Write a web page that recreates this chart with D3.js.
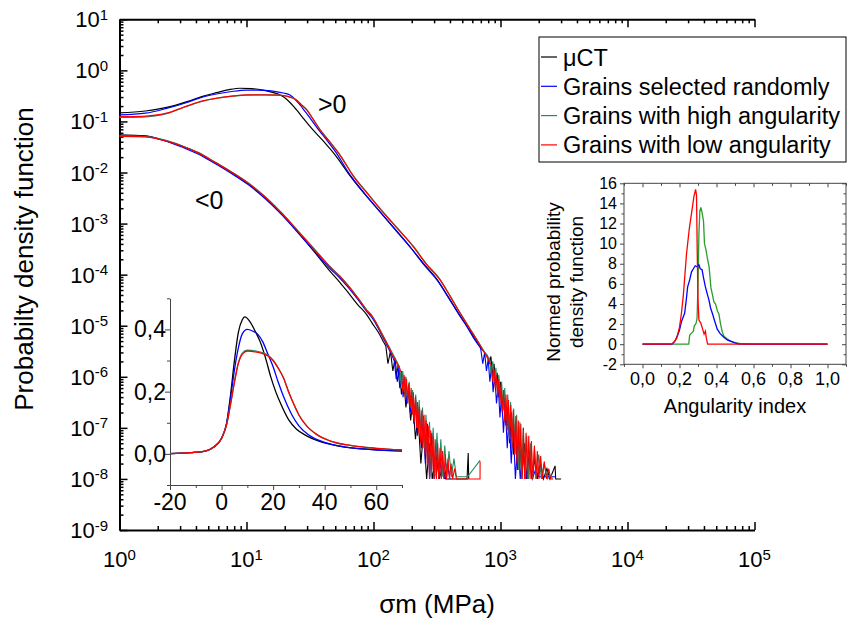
<!DOCTYPE html>
<html>
<head>
<meta charset="utf-8">
<script src="https://cdn.jsdelivr.net/npm/d3@7"></script>
<style>
  body { margin: 0; background: #fff; }
  text { font-family: "Liberation Sans", Arial, sans-serif; fill: #000; }
</style>
</head>
<body>
<svg id="chart" width="849" height="621"></svg>
<script>
// ---- data: main plot, sigma_m (MPa) vs pdf ----
// ">0" group
const posBlack = [[1,0.147],[1.6,0.16],[2.4,0.19],[3.4,0.245],[4.5,0.31],[5.8,0.366],[7.3,0.42],[8.9,0.447],[11,0.44],[13.5,0.41],[16,0.37],[18.4,0.33],[20,0.29],[22,0.235],[24.8,0.168],[28,0.115],[31.7,0.079],[40,0.042],[50,0.022],[65,0.0088],[85,0.0038],[112,0.00172],[150,0.00074],[194,0.00035],[250,0.00016],[318,0.000079],[390,0.000036],[466,0.0000177],[550,0.0000095],[630,0.0000055],[710,0.0000035],[790,0.0000026]];
const posBlackTail = [[815,1.8e-6],[840,2.5e-6],[865,1.1e-6],[890,1.8e-6],[915,6e-7],[940,1.2e-6],[970,4e-7],[1000,8e-7],[1035,2.2e-7],[1070,5e-7],[1105,1.1e-7],[1140,3e-7],[1180,5e-8],[1220,2e-7],[1265,3e-8],[1310,1.2e-7],[1360,1.5e-8],[1410,8e-8],[1470,1e-8],[1540,5e-8],[1610,1e-8],[1690,3.5e-8],[1770,1e-8],[1860,2.5e-8],[1950,1e-8],[2060,2e-8],[2180,1e-8],[2320,1.6e-8],[2450,1e-8],[2690,1.8e-8],[2720,1e-8],[3000,1e-8]];
const posBlue = [[1,0.134],[1.6,0.145],[2.35,0.18],[3.4,0.235],[4.3,0.29],[5.8,0.345],[7.9,0.39],[10,0.41],[12,0.412],[14,0.405],[17,0.385],[19.5,0.36],[22,0.33],[24,0.275],[26.4,0.21],[29,0.155],[31.7,0.116],[36,0.075],[42,0.046],[50,0.026],[65,0.0092],[85,0.0039],[112,0.00173],[150,0.00074],[194,0.00035],[250,0.000155],[318,0.000077],[390,0.000035],[466,0.0000172],[550,0.0000092],[630,0.0000052],[690,0.0000038]];
const posBlueTail = [[700,3.4e-6],[725,1.8e-6],[750,3e-6],[775,1.3e-6],[800,2.2e-6],[825,8e-7],[850,1.6e-6],[875,5e-7],[900,1.1e-6],[930,3e-7],[960,7e-7],[990,1.6e-7],[1020,4.5e-7],[1055,8e-8],[1090,3e-7],[1130,4e-8],[1170,1.8e-7],[1215,2e-8],[1260,1.1e-7],[1310,1e-8],[1370,6e-8],[1430,1e-8],[1500,3.5e-8],[1580,1e-8],[1680,2.2e-8],[1780,1e-8],[1900,1.6e-8],[2000,1.1e-8],[2700,1.1e-8]];
const posGreen = [[1,0.12],[1.5,0.122],[2.35,0.142],[3.2,0.188],[4.3,0.24],[6,0.288],[7.9,0.313],[10,0.328],[14,0.331],[18,0.327],[21,0.311],[24.8,0.262],[27,0.215],[29.8,0.17],[33,0.118],[37.9,0.07],[45,0.041],[55,0.0215],[69.3,0.0087],[90,0.0039],[120,0.00165],[160,0.00074],[206,0.00036],[260,0.000165],[334,0.000081],[400,0.000039],[480,0.000018],[560,0.0000097],[650,0.0000054],[740,0.0000032],[800,0.0000024]];
const posGreenTail = [[820,2.3e-6],[845,1.1e-6],[870,2e-6],[895,8e-7],[920,1.5e-6],[945,5e-7],[970,1.1e-6],[995,3.5e-7],[1020,8e-7],[1050,2.2e-7],[1080,6e-7],[1110,1.4e-7],[1140,4.5e-7],[1170,8e-8],[1200,3.2e-7],[1235,5e-8],[1270,2.4e-7],[1305,3e-8],[1340,1.8e-7],[1380,1.5e-8],[1420,1.3e-7],[1465,1e-8],[1510,1e-7],[1560,1e-8],[1610,7e-8],[1660,1e-8],[1720,5e-8],[1780,1e-8],[1850,4e-8],[1920,1e-8],[2000,3e-8],[2100,1e-8],[2200,2e-8],[2350,1e-8],[2500,1.2e-8],[2550,1e-8]];
const posRed = [[1,0.124],[1.5,0.126],[2.35,0.145],[3.2,0.19],[4.3,0.245],[6,0.29],[7.9,0.316],[10,0.33],[14,0.332],[18,0.327],[21,0.31],[24.8,0.26],[27,0.212],[29.8,0.168],[33,0.116],[37.9,0.068],[45,0.04],[55,0.021],[69.3,0.0085],[90,0.0038],[120,0.0016],[160,0.00072],[206,0.00035],[260,0.00016],[334,0.000079],[400,0.000038],[480,0.0000177],[560,0.0000095],[650,0.0000053],[740,0.0000031],[827,0.0000019]];
const posRedTail = [[850,1.6e-6],[870,8e-7],[890,1.4e-6],[910,6e-7],[930,1.1e-6],[950,4e-7],[970,9e-7],[990,3e-7],[1010,7e-7],[1030,2e-7],[1055,5.5e-7],[1080,1.3e-7],[1105,4.5e-7],[1130,9e-8],[1155,3.5e-7],[1180,6e-8],[1205,2.8e-7],[1230,4e-8],[1260,2.2e-7],[1290,3e-8],[1320,1.7e-7],[1350,2e-8],[1380,1.4e-7],[1410,1.5e-8],[1445,1.2e-7],[1480,1e-8],[1515,1e-7],[1550,1e-8],[1590,8e-8],[1630,1e-8],[1670,7e-8],[1710,1e-8],[1750,5.5e-8],[1800,1e-8],[1850,4.5e-8],[1900,1e-8],[1950,3.5e-8],[2010,1e-8],[2070,2.8e-8],[2140,1e-8],[2210,2.2e-8],[2300,1e-8],[2400,1.6e-8],[2480,1e-8],[2600,1e-8]];

// "<0" group
const negBlack = [[1,0.0545],[1.6,0.052],[2.2,0.043],[3.1,0.033],[4.2,0.024],[5.65,0.0155],[7.5,0.0102],[10.3,0.006],[14,0.0032],[18.9,0.00155],[26.4,0.0006],[34.6,0.00027],[45,0.00012],[54.5,0.00007],[63,0.000045],[75,0.000026],[88.4,0.0000165],[97,0.0000115],[110,0.0000072],[120,0.0000048]];
const negBlackTail = [[125,4e-6],[130,1.8e-6],[136,3.2e-6],[142,1.3e-6],[148,2.3e-6],[154,8e-7],[160,1.4e-6],[166,4.5e-7],[173,9e-7],[180,2.5e-7],[188,5.5e-7],[196,1.4e-7],[204,3.2e-7],[214,6e-8],[224,1.8e-7],[236,2e-8],[248,9e-8],[262,1e-8],[276,5e-8],[290,1e-8],[310,3e-8],[330,1e-8],[350,1.8e-8],[370,1e-8],[545,1e-8],[557,3.2e-8],[562,1e-8]];
const negBlue = [[1,0.053],[1.6,0.051],[2.2,0.043],[3.1,0.0315],[4.2,0.0228],[5.65,0.015],[7.5,0.0098],[10.3,0.0058],[14,0.0031],[18.9,0.0015],[26.4,0.0006],[34.6,0.00028],[45,0.000135],[54.5,0.000085],[63,0.000057],[75,0.000033],[88.4,0.000019],[97,0.0000145],[119.5,0.0000057],[140,0.0000026]];
const negBlueTail = [[146,2e-6],[151,9e-7],[156,1.7e-6],[161,6e-7],[166,1.3e-6],[171,4e-7],[177,1e-6],[183,3e-7],[189,7e-7],[195,2e-7],[201,5e-7],[208,1.2e-7],[215,3.5e-7],[222,7e-8],[230,2.5e-7],[238,4e-8],[247,1.7e-7],[256,2e-8],[266,1.2e-7],[277,1e-8],[288,8e-8],[300,1e-8],[313,5e-8],[328,1e-8],[344,3e-8],[362,1e-8],[380,2e-8],[400,1e-8]];
const negGreen = [[1,0.052],[1.6,0.0505],[2.2,0.044],[3.1,0.0335],[4.2,0.0245],[5.65,0.016],[7.5,0.0106],[10.3,0.0063],[14,0.0034],[18.9,0.00163],[26.4,0.00065],[34.6,0.00031],[45,0.000148],[54.5,0.000093],[63,0.000062],[75,0.000036],[88.4,0.0000205],[97,0.0000158],[119.5,0.0000063],[140,0.000003],[156,0.0000018]];
const negGreenTail = [[160,1.6e-6],[165,7e-7],[170,1.3e-6],[175,5e-7],[180,1e-6],[185,3.5e-7],[191,8e-7],[197,2.5e-7],[203,5.5e-7],[209,1.5e-7],[215,4.5e-7],[222,1e-7],[229,3.5e-7],[236,6e-8],[243,2.5e-7],[251,4e-8],[259,1.8e-7],[267,2e-8],[276,1.3e-7],[285,1.1e-8],[295,1e-7],[305,1.1e-8],[316,8e-8],[327,1.1e-8],[339,6e-8],[351,1.1e-8],[364,4.5e-8],[378,1.1e-8],[393,3.5e-8],[410,1.1e-8],[430,2.5e-8],[450,1.1e-8],[550,1.1e-8],[690,2.3e-8]];
const negRed = [[1,0.051],[1.6,0.05],[2.2,0.043],[3.1,0.033],[4.2,0.024],[5.65,0.0158],[7.5,0.0104],[10.3,0.0062],[14,0.0033],[18.9,0.0016],[26.4,0.00064],[34.6,0.0003],[45,0.000145],[54.5,0.000091],[63,0.000061],[75,0.000035],[88.4,0.00002],[97,0.0000155],[119.5,0.0000061],[140,0.0000028],[162,0.0000014]];
const negRedTail = [[166,1.2e-6],[170,5e-7],[174,1.1e-6],[178,4e-7],[182,9e-7],[186,3e-7],[190,7.5e-7],[194,2.5e-7],[198,6e-7],[202,1.8e-7],[206,5e-7],[210,1.3e-7],[214,4e-7],[218,1e-7],[222,3.2e-7],[226,8e-8],[230,2.6e-7],[235,5e-8],[240,2.2e-7],[245,4e-8],[250,1.8e-7],[255,3e-8],[260,1.4e-7],[265,2e-8],[270,1.1e-7],[276,1e-8],[282,9e-8],[288,1.5e-8],[294,7e-8],[300,1e-8],[306,6e-8],[313,1e-8],[320,5e-8],[327,1e-8],[334,4e-8],[342,1e-8],[350,3.5e-8],[358,1e-8],[367,3e-8],[376,1e-8],[386,2.5e-8],[396,1e-8],[408,2e-8],[420,1e-8],[435,1.6e-8],[450,1e-8],[690,1e-8],[691,2.2e-8]];

// ---- inset 1 (linear, >0 distribution) ----
const insBlack = [[-20,0.001],[-12,0.004],[-6,0.01],[-3,0.022],[0,0.05],[2,0.1],[3.5,0.19],[5,0.3],[6.5,0.39],[8,0.43],[9,0.44],[11,0.425],[13,0.395],[15,0.36],[17,0.31],[19,0.25],[21,0.2],[23,0.16],[26,0.11],[29,0.08],[33,0.058],[38,0.04],[45,0.026],[55,0.016],[70,0.01]];
const insBlue = [[-20,0.001],[-12,0.004],[-6,0.01],[-3,0.022],[0,0.05],[2,0.1],[3.5,0.18],[5,0.27],[6.5,0.34],[8,0.385],[10,0.4],[12,0.395],[14,0.385],[16,0.36],[18,0.32],[20,0.28],[22,0.23],[24,0.185],[27,0.13],[30,0.09],[34,0.06],[40,0.037],[48,0.022],[58,0.014],[70,0.009]];
const insGreen = [[-20,0.001],[-12,0.004],[-6,0.01],[-3,0.022],[0,0.05],[2,0.095],[3.5,0.16],[5,0.232],[6.5,0.292],[8,0.323],[10,0.333],[13,0.331],[16,0.325],[18,0.317],[20,0.301],[22,0.276],[24,0.245],[26,0.2],[28,0.16],[30,0.125],[33,0.09],[37,0.062],[42,0.042],[50,0.027],[60,0.018],[70,0.013]];
const insRed = [[-20,0.001],[-12,0.004],[-6,0.01],[-3,0.022],[0,0.05],[2,0.095],[3.5,0.16],[5,0.23],[6.5,0.29],[8,0.32],[10,0.33],[13,0.328],[16,0.322],[18,0.315],[20,0.3],[22,0.275],[24,0.245],[26,0.2],[28,0.16],[30,0.125],[33,0.09],[37,0.062],[42,0.042],[50,0.027],[60,0.018],[70,0.013]];

// ---- inset 2 (angularity index) ----
const angBlue = [[0,0],[0.16,0],[0.175,0.3],[0.19,0.9],[0.2,1.4],[0.21,2.2],[0.228,3.1],[0.236,4.3],[0.244,5.7],[0.255,6.4],[0.265,7.2],[0.275,7.5],[0.285,7.8],[0.295,7.7],[0.305,7.9],[0.312,7.5],[0.322,7.4],[0.33,6.6],[0.34,5.7],[0.35,5],[0.359,4.4],[0.368,3.6],[0.377,3.1],[0.39,2.3],[0.404,1.5],[0.42,1.05],[0.44,0.7],[0.46,0.4],[0.476,0.3],[0.5,0.12],[0.52,0],[1,0]];
const angGreen = [[0,0],[0.25,0],[0.255,0.9],[0.265,1.1],[0.275,1.3],[0.28,1.8],[0.29,2.1],[0.295,2.6],[0.3,6],[0.305,11],[0.31,13.2],[0.315,13.6],[0.322,13.1],[0.33,12.2],[0.335,10],[0.343,9.4],[0.35,8.6],[0.36,7.7],[0.37,5.6],[0.377,5],[0.386,4.2],[0.395,4],[0.405,3.3],[0.413,3],[0.422,2],[0.43,1.3],[0.44,0.8],[0.46,0.5],[0.476,0.3],[0.5,0.15],[0.53,0.05],[0.6,0],[1,0]];
const angRed = [[0,0],[0.155,0],[0.17,0.2],[0.185,0.6],[0.2,1.7],[0.21,3],[0.22,4.7],[0.238,9],[0.253,11.5],[0.265,13],[0.278,14.7],[0.287,15.4],[0.292,14.8],[0.296,9],[0.3,4.5],[0.305,2.4],[0.315,2.1],[0.325,1.5],[0.333,1],[0.34,1.3],[0.345,0.6],[0.352,0],[1,0]];

const legendLabels = ["\u03bcCT", "Grains selected randomly", "Grains with high angularity", "Grains with low angularity"];
const colors = ["#000000", "#0000ff", "#1f8f62", "#ff0000"];
const angGreenColor = "#2a9d2a";

const svg = d3.select("#chart");

// ---------- main axes ----------
const x = d3.scaleLog().domain([1, 1e5]).range([119.5, 754.5]);
const y = d3.scaleLog().domain([1e-9, 10]).range([530, 19.3]);

const isMajor = d => Math.abs(Math.log10(d) - Math.round(Math.log10(d))) < 1e-6;
const xTicks = x.ticks();
const yTicks = y.ticks(30);

function styleLogAxis(g, attr) {
  g.select(".domain").attr("stroke-width", 2);
  g.selectAll(".tick line")
    .attr("stroke-width", 1.5)
    .attr(attr, function (d) {
      const v = +this.getAttribute(attr);
      return isMajor(d) ? v : v / 2;
    });
}

const gBottom = svg.append("g").attr("transform", "translate(0,530)")
  .call(d3.axisBottom(x).tickValues(xTicks).tickSize(-8).tickSizeOuter(0).tickFormat(""));
styleLogAxis(gBottom, "y2");
const gTop = svg.append("g").attr("transform", "translate(0,19.3)")
  .call(d3.axisTop(x).tickValues(xTicks).tickSize(-8).tickSizeOuter(0).tickFormat(""));
styleLogAxis(gTop, "y2");
const gLeft = svg.append("g").attr("transform", "translate(119.5,0)")
  .call(d3.axisLeft(y).tickValues(yTicks).tickSize(-8).tickSizeOuter(0).tickFormat(""));
styleLogAxis(gLeft, "x2");

function powText(sel) {
  sel.each(function (d) {
    const t = d3.select(this);
    t.append("tspan").text("10");
    t.append("tspan").attr("dy", -7.5).attr("font-size", 15).text(Math.round(Math.log10(d)));
  });
}

svg.append("g").selectAll("text")
  .data(xTicks.filter(isMajor))
  .join("text")
  .attr("x", d => x(d)).attr("y", 567)
  .attr("text-anchor", "middle").attr("font-size", 22)
  .call(powText);

svg.append("g").selectAll("text")
  .data(yTicks.filter(isMajor))
  .join("text")
  .attr("x", 108).attr("y", d => y(d) + 8)
  .attr("text-anchor", "end").attr("font-size", 22)
  .call(powText);

svg.append("text")
  .attr("transform", "translate(33,259) rotate(-90)")
  .attr("text-anchor", "middle").attr("font-size", 26)
  .text("Probabilty density function");

svg.append("text")
  .attr("x", 437).attr("y", 613)
  .attr("text-anchor", "middle").attr("font-size", 26)
  .text("\u03c3m (MPa)");

svg.append("text").attr("x", 318).attr("y", 113).attr("font-size", 25).text(">0");
svg.append("text").attr("x", 195).attr("y", 209).attr("font-size", 25).text("<0");

// ---------- inset 1 ----------
const xi = d3.scaleLinear().domain([-20, 70]).range([170, 402]);
const yi = d3.scaleLinear().domain([-0.1, 0.5]).range([485, 298.3]);

const gi = svg.append("g");
const giB = gi.append("g").attr("transform", "translate(0,485)")
  .call(d3.axisBottom(xi).tickValues(d3.range(-20, 71, 10)).tickSize(5).tickSizeOuter(0).tickFormat(""));
giB.selectAll(".tick line").attr("y2", d => d % 20 === 0 ? 5 : 3);
const giL = gi.append("g").attr("transform", "translate(170,0)")
  .call(d3.axisLeft(yi).tickValues([-0.1, 0, 0.1, 0.2, 0.3, 0.4, 0.5]).tickSize(5).tickSizeOuter(0).tickFormat(""));
giL.selectAll(".tick line").attr("x2", d => Math.round(d * 10) % 2 === 0 ? -5 : -3);
gi.selectAll(".domain, .tick line").attr("stroke", "#444").attr("stroke-width", 1);

gi.append("g").selectAll("text")
  .data([-20, 0, 20, 40, 60]).join("text")
  .attr("x", d => xi(d)).attr("y", 510)
  .attr("text-anchor", "middle").attr("font-size", 23)
  .text(d => d);
gi.append("g").selectAll("text")
  .data([0, 0.2, 0.4]).join("text")
  .attr("x", 166).attr("y", d => yi(d) + 8)
  .attr("text-anchor", "end").attr("font-size", 23)
  .text(d => d3.format(".1f")(d).replace(".", ","));

const lineI = d3.line().x(d => xi(d[0])).y(d => yi(d[1])).curve(d3.curveMonotoneX);
[insBlack, insBlue, insGreen, insRed].forEach((s, i) => {
  gi.append("path").attr("d", lineI(s)).attr("fill", "none")
    .attr("stroke", colors[i]).attr("stroke-width", 1.3);
});

// ---------- main curves ----------
const lineSmooth = d3.line().x(d => x(d[0])).y(d => y(d[1])).curve(d3.curveMonotoneX);
const lineRough = d3.line().x(d => x(d[0])).y(d => y(d[1]));
const mainSeries = [
  [posBlack, posBlackTail, negBlack, negBlackTail],
  [posBlue, posBlueTail, negBlue, negBlueTail],
  [posGreen, posGreenTail, negGreen, negGreenTail],
  [posRed, posRedTail, negRed, negRedTail]
];
const gm = svg.append("g");
mainSeries.forEach((s, i) => {
  [[s[0], s[1]], [s[2], s[3]]].forEach(([smooth, tail]) => {
    gm.append("path").attr("d", lineSmooth(smooth)).attr("fill", "none")
      .attr("stroke", colors[i]).attr("stroke-width", 1.2);
    gm.append("path").attr("d", lineRough([smooth[smooth.length - 1]].concat(tail)))
      .attr("fill", "none").attr("stroke", colors[i]).attr("stroke-width", 1.1);
  });
});

// ---------- legend ----------
const lg = svg.append("g");
lg.append("rect").attr("x", 539).attr("y", 37).attr("width", 307).attr("height", 125)
  .attr("fill", "#fff").attr("stroke", "#000").attr("stroke-width", 1);
legendLabels.forEach((t, i) => {
  const yy = 57 + i * 29.3;
  lg.append("line").attr("x1", 541).attr("x2", 557).attr("y1", yy).attr("y2", yy)
    .attr("stroke", colors[i]).attr("stroke-width", 1.2);
  lg.append("text").attr("x", 563).attr("y", yy + 8.5).attr("font-size", 23.5).text(t);
});

// ---------- inset 2 ----------
const xa = d3.scaleLinear().domain([-0.1, 1.1]).range([624, 846]);
const ya = d3.scaleLinear().domain([-2, 16]).range([364.3, 183.3]);
const ga = svg.append("g");
ga.append("rect").attr("x", 624).attr("y", 183.3).attr("width", 222).attr("height", 181)
  .attr("fill", "#fff").attr("stroke", "#444").attr("stroke-width", 1);

const angX = d3.range(-1, 12).map(i => i / 10);
const angY = d3.range(-2, 17);
const majX = d => Math.round(d * 10) % 2 === 0;
const majY = d => d % 2 === 0;
function angAxis(axis, ticks, maj, transform, attr, sign) {
  const g = ga.append("g").attr("transform", transform)
    .call(axis.tickValues(ticks).tickSize(4).tickSizeOuter(0).tickFormat(""));
  g.select(".domain").remove();
  g.selectAll(".tick line").attr("stroke", "#444").attr("stroke-width", 1)
    .attr(attr, d => sign * (maj(d) ? 4 : 2.5));
}
angAxis(d3.axisBottom(xa), angX, majX, "translate(0,364.3)", "y2", 1);
angAxis(d3.axisTop(xa), angX, majX, "translate(0,183.3)", "y2", 1);
angAxis(d3.axisLeft(ya), angY, majY, "translate(624,0)", "x2", -1);
angAxis(d3.axisRight(ya), angY, majY, "translate(846,0)", "x2", -1);

ga.append("g").selectAll("text")
  .data([0, 0.2, 0.4, 0.6, 0.8, 1.0]).join("text")
  .attr("x", d => xa(d)).attr("y", 385)
  .attr("text-anchor", "middle").attr("font-size", 18)
  .text(d => d3.format(".1f")(d).replace(".", ","));
ga.append("g").selectAll("text")
  .data(angY.filter(majY)).join("text")
  .attr("x", 617).attr("y", d => ya(d) + 5.5)
  .attr("text-anchor", "end").attr("font-size", 16)
  .text(d => d);
ga.append("text").attr("x", 735).attr("y", 413).attr("text-anchor", "middle")
  .attr("font-size", 20).text("Angularity index");
ga.append("text").attr("transform", "translate(560,282) rotate(-90)")
  .attr("text-anchor", "middle").attr("font-size", 19).text("Normed probability");
ga.append("text").attr("transform", "translate(583,282) rotate(-90)")
  .attr("text-anchor", "middle").attr("font-size", 19).text("density function");

const lineA = d3.line().x(d => xa(d[0])).y(d => ya(d[1]));
[[angGreen, angGreenColor], [angBlue, colors[1]], [angRed, colors[3]]].forEach(([s, c]) => {
  ga.append("path").attr("d", lineA(s)).attr("fill", "none")
    .attr("stroke", c).attr("stroke-width", 1.3);
});
</script>
</body>
</html>
